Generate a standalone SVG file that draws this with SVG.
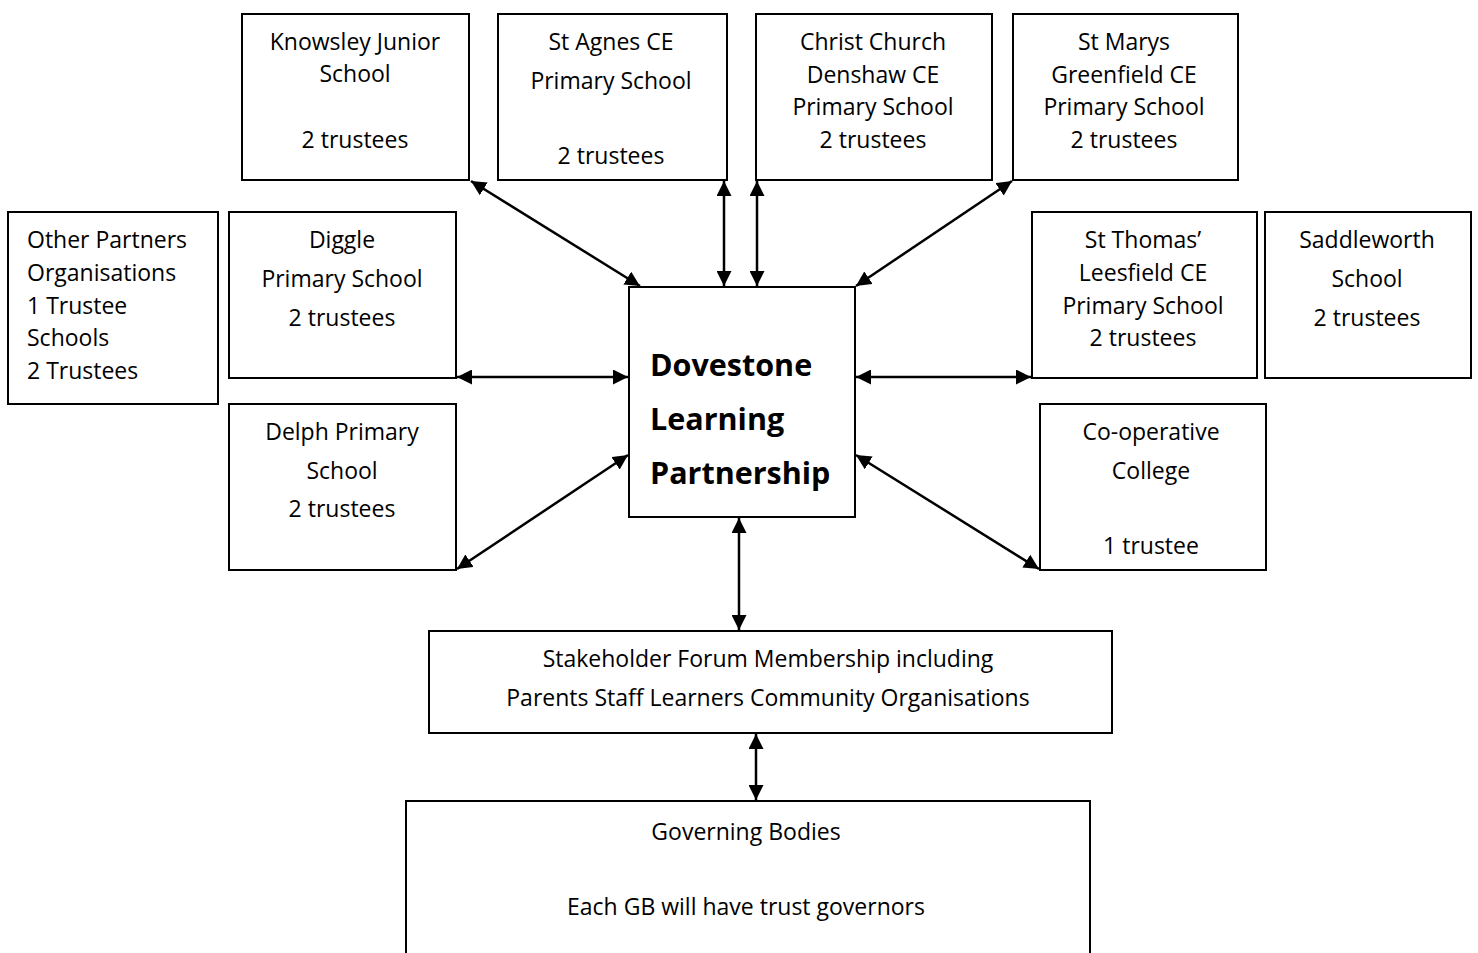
<svg xmlns="http://www.w3.org/2000/svg" width="1478" height="953" viewBox="0 0 1478 953">
  <style>
    .box { fill: #fff; stroke: #000; stroke-width: 2; }
    .t { font-family: "Open Sans", "Liberation Sans", sans-serif; font-size: 23px; fill: #000; text-anchor: middle; }
    .tl { text-anchor: start; }
    .title { font-family: "Open Sans", "Liberation Sans", sans-serif; font-size: 30.5px; font-weight: bold; fill: #000; }
    .link { stroke: #000; stroke-width: 2.5; fill: none; marker-start: url(#head); marker-end: url(#head); }
  </style>
  <defs>
    <marker id="head" viewBox="0 0 10 10" refX="10" refY="5" markerWidth="6" markerHeight="6" markerUnits="strokeWidth" orient="auto-start-reverse">
      <path d="M0,0 L10,5 L0,10 Z" fill="#000"/>
    </marker>
  </defs>

  <rect width="1478" height="953" fill="#fff"/>

  <!-- connectors -->
  <g id="connectors">
    <line class="link" x1="471" y1="181" x2="640" y2="286"/>
    <line class="link" x1="724" y1="181" x2="724" y2="286"/>
    <line class="link" x1="757" y1="181" x2="757" y2="286"/>
    <line class="link" x1="1012" y1="181" x2="856" y2="286"/>
    <line class="link" x1="457" y1="377" x2="628" y2="377"/>
    <line class="link" x1="856" y1="377" x2="1031" y2="377"/>
    <line class="link" x1="457" y1="569" x2="628" y2="455"/>
    <line class="link" x1="856" y1="455" x2="1039" y2="569"/>
    <line class="link" x1="739" y1="518" x2="739" y2="630"/>
    <line class="link" x1="756" y1="734" x2="756" y2="800"/>
  </g>

  <g id="knowsley">
    <rect class="box" x="242" y="14" width="227" height="166"/>
    <text class="t" x="355" y="50">Knowsley Junior</text>
    <text class="t" x="355" y="82">School</text>
    <text class="t" x="355" y="148">2 trustees</text>
  </g>

  <g id="st-agnes">
    <rect class="box" x="498" y="14" width="229" height="166"/>
    <text class="t" x="611" y="50">St Agnes CE</text>
    <text class="t" x="611" y="89">Primary School</text>
    <text class="t" x="611" y="164">2 trustees</text>
  </g>

  <g id="christ-church">
    <rect class="box" x="756" y="14" width="236" height="166"/>
    <text class="t" x="873" y="50">Christ Church</text>
    <text class="t" x="873" y="83">Denshaw CE</text>
    <text class="t" x="873" y="115">Primary School</text>
    <text class="t" x="873" y="148">2 trustees</text>
  </g>

  <g id="st-marys">
    <rect class="box" x="1013" y="14" width="225" height="166"/>
    <text class="t" x="1124" y="50">St Marys</text>
    <text class="t" x="1124" y="83">Greenfield CE</text>
    <text class="t" x="1124" y="115">Primary School</text>
    <text class="t" x="1124" y="148">2 trustees</text>
  </g>

  <g id="other-partners">
    <rect class="box" x="8" y="212" width="210" height="192"/>
    <text class="t tl" x="27" y="248">Other Partners</text>
    <text class="t tl" x="27" y="281">Organisations</text>
    <text class="t tl" x="27" y="314">1 Trustee</text>
    <text class="t tl" x="27" y="346">Schools</text>
    <text class="t tl" x="27" y="379">2 Trustees</text>
  </g>

  <g id="diggle">
    <rect class="box" x="229" y="212" width="227" height="166"/>
    <text class="t" x="342" y="248">Diggle</text>
    <text class="t" x="342" y="287">Primary School</text>
    <text class="t" x="342" y="326">2 trustees</text>
  </g>

  <g id="st-thomas">
    <rect class="box" x="1032" y="212" width="225" height="166"/>
    <text class="t" x="1143" y="248">St Thomas’</text>
    <text class="t" x="1143" y="281">Leesfield CE</text>
    <text class="t" x="1143" y="314">Primary School</text>
    <text class="t" x="1143" y="346">2 trustees</text>
  </g>

  <g id="saddleworth">
    <rect class="box" x="1265" y="212" width="206" height="166"/>
    <text class="t" x="1367" y="248">Saddleworth</text>
    <text class="t" x="1367" y="287">School</text>
    <text class="t" x="1367" y="326">2 trustees</text>
  </g>

  <g id="delph">
    <rect class="box" x="229" y="404" width="227" height="166"/>
    <text class="t" x="342" y="440">Delph Primary</text>
    <text class="t" x="342" y="479">School</text>
    <text class="t" x="342" y="517">2 trustees</text>
  </g>

  <g id="co-operative">
    <rect class="box" x="1040" y="404" width="226" height="166"/>
    <text class="t" x="1151" y="440">Co-operative</text>
    <text class="t" x="1151" y="479">College</text>
    <text class="t" x="1151" y="554">1 trustee</text>
  </g>

  <g id="dovestone">
    <rect class="box" x="629" y="287" width="226" height="230"/>
    <text class="title" x="650" y="376">Dovestone</text>
    <text class="title" x="650" y="430">Learning</text>
    <text class="title" x="650" y="484">Partnership</text>
  </g>

  <g id="stakeholder-forum">
    <rect class="box" x="429" y="631" width="683" height="102"/>
    <text class="t" x="768" y="667">Stakeholder Forum Membership including</text>
    <text class="t" x="768" y="706">Parents Staff Learners Community Organisations</text>
  </g>

  <g id="governing-bodies">
    <rect class="box" x="406" y="801" width="684" height="170"/>
    <text class="t" x="746" y="840">Governing Bodies</text>
    <text class="t" x="746" y="915">Each GB will have trust governors</text>
  </g>
</svg>
